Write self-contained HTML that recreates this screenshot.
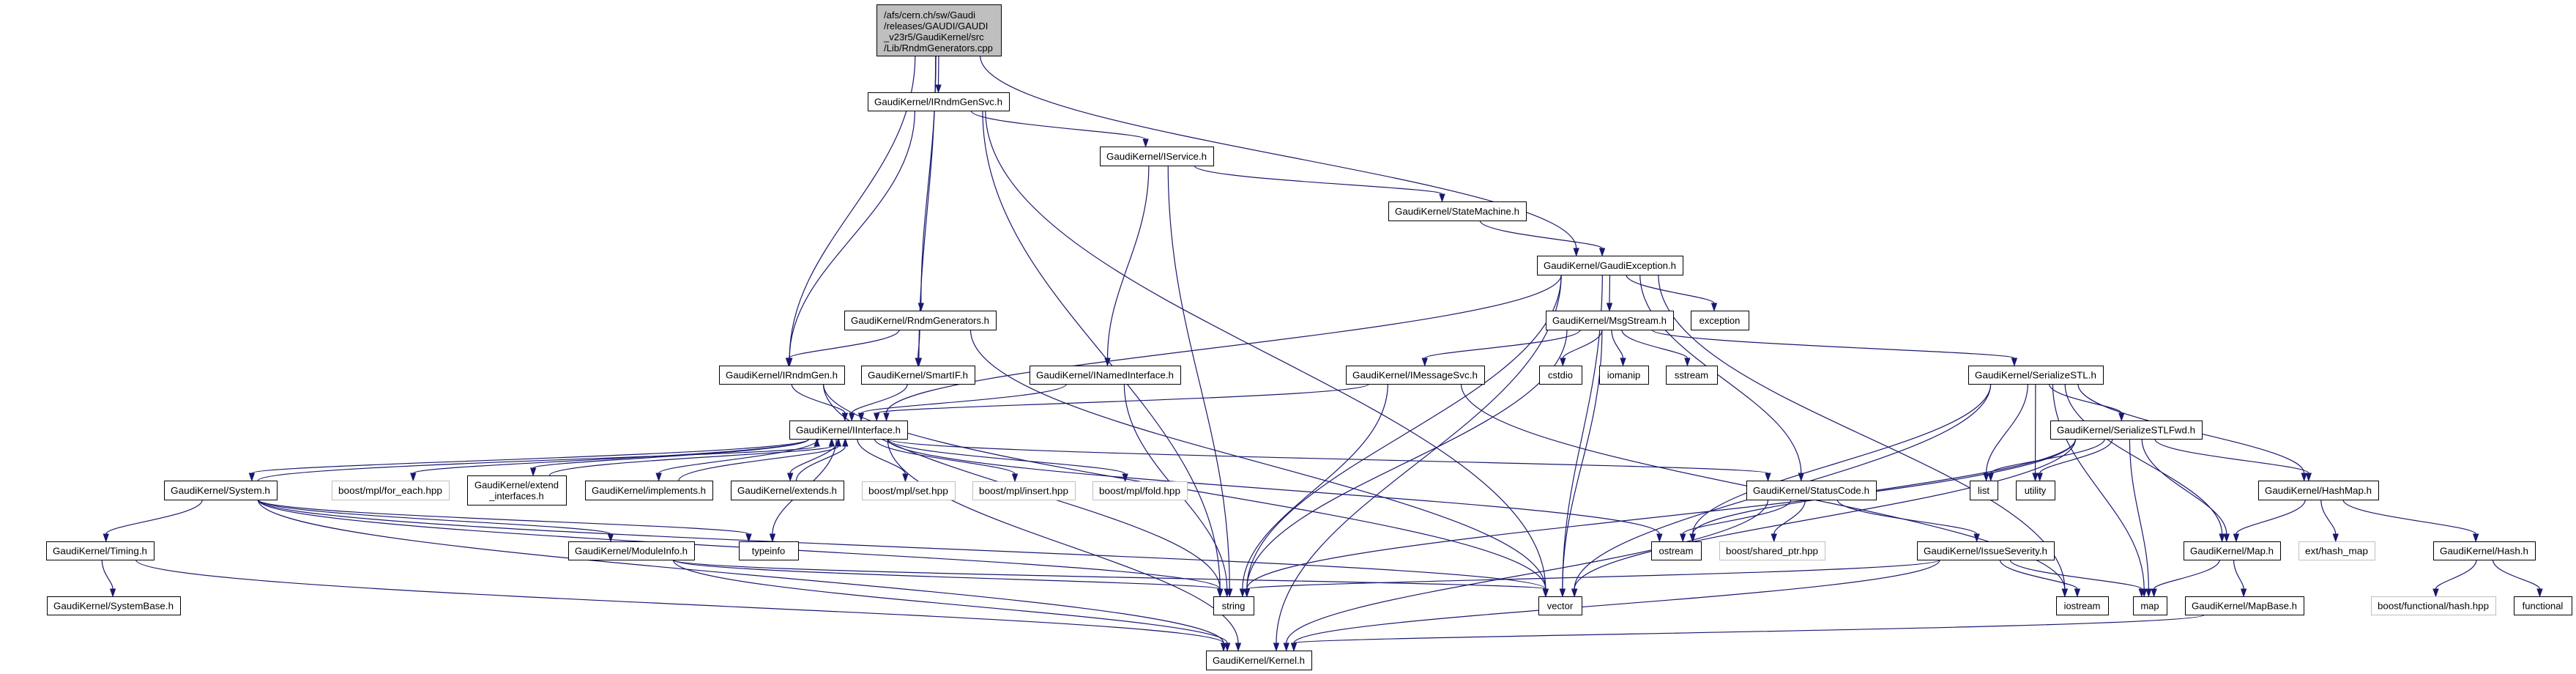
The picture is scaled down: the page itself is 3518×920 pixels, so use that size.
<!DOCTYPE html>
<html><head><meta charset="utf-8"><style>
html,body{margin:0;padding:0;background:#fff;width:3518px;height:920px;overflow:hidden}
svg text{font-family:"Liberation Sans",Arial,sans-serif;font-size:13px;fill:#000}
</style></head><body>
<svg id="g" width="3518" height="920" xmlns="http://www.w3.org/2000/svg"></svg>
<script>
var N={
root:[1197,6,1367,76,["/afs/cern.ch/sw/Gaudi","/releases/GAUDI/GAUDI","_v23r5/GaudiKernel/src","/Lib/RndmGenerators.cpp"],2],
rgs:[1185,126,1378,151,["GaudiKernel/IRndmGenSvc.h"]],
isvc:[1502,200,1657,226,["GaudiKernel/IService.h"]],
sm:[1896,275,2084,301,["GaudiKernel/StateMachine.h"]],
ge:[2099,349,2298,375,["GaudiKernel/GaudiException.h"]],
rg:[1153,424,1360,450,["GaudiKernel/RndmGenerators.h"]],
ms:[2111,424,2285,450,["GaudiKernel/MsgStream.h"]],
exc:[2309,424,2388,450,["exception"]],
irg:[982,499,1153,524,["GaudiKernel/IRndmGen.h"]],
sif:[1176,499,1331,524,["GaudiKernel/SmartIF.h"]],
ini:[1406,499,1612,524,["GaudiKernel/INamedInterface.h"]],
ims:[1838,499,2027,524,["GaudiKernel/IMessageSvc.h"]],
cstdio:[2102,499,2160,524,["cstdio"]],
iomanip:[2184,499,2251,524,["iomanip"]],
sstream:[2275,499,2345,524,["sstream"]],
ss:[2688,499,2872,524,["GaudiKernel/SerializeSTL.h"]],
ii:[1078,574,1239,599,["GaudiKernel/IInterface.h"]],
ssf:[2800,574,3007,599,["GaudiKernel/SerializeSTLFwd.h"]],
sys:[224,656,378,682,["GaudiKernel/System.h"]],
fe:[453,656,613,682,["boost/mpl/for_each.hpp"],1],
ei:[638,649,773,689,["GaudiKernel/extend","_interfaces.h"]],
impl:[799,656,973,682,["GaudiKernel/implements.h"]],
ext:[998,656,1152,682,["GaudiKernel/extends.h"]],
set:[1177,657,1304,682,["boost/mpl/set.hpp"],1],
ins:[1328,657,1468,682,["boost/mpl/insert.hpp"],1],
fold:[1492,657,1621,682,["boost/mpl/fold.hpp"],1],
sc:[2385,656,2562,682,["GaudiKernel/StatusCode.h"]],
list:[2690,656,2728,682,["list"]],
util:[2753,656,2806,682,["utility"]],
hm:[3084,656,3248,682,["GaudiKernel/HashMap.h"]],
tim:[63,739,210,764,["GaudiKernel/Timing.h"]],
mi:[776,739,948,764,["GaudiKernel/ModuleInfo.h"]],
ti:[1009,739,1090,764,["typeinfo"]],
ost:[2255,739,2323,764,["ostream"]],
sp:[2348,739,2492,764,["boost/shared_ptr.hpp"],1],
is:[2618,739,2805,764,["GaudiKernel/IssueSeverity.h"]],
map:[2982,739,3114,764,["GaudiKernel/Map.h"]],
ehm:[3139,739,3243,764,["ext/hash_map"],1],
hash:[3323,739,3462,764,["GaudiKernel/Hash.h"]],
sb:[64,814,246,839,["GaudiKernel/SystemBase.h"]],
str:[1657,814,1712,839,["string"]],
vec:[2101,814,2160,839,["vector"]],
ios:[2808,814,2879,839,["iostream"]],
mp:[2913,814,2959,839,["map"]],
mb:[2984,814,3146,839,["GaudiKernel/MapBase.h"]],
bfh:[3238,814,3408,839,["boost/functional/hash.hpp"],1],
fun:[3433,814,3512,839,["functional"]],
ker:[1647,888,1791,914,["GaudiKernel/Kernel.h"]]
};
var E=[
["root","rgs"],["root","irg"],["root","rg"],["root","sif"],["root","ge"],
["rgs","irg"],["rgs","isvc"],["rgs","str"],["rgs","vec"],
["isvc","ini"],["isvc","sm"],["isvc","str"],
["sm","ge"],
["ge","ms"],["ge","exc"],["ge","ii"],["ge","str"],["ge","vec"],["ge","sc"],["ge","ker"],["ge","ios"],
["rg","irg"],["rg","sif"],["rg","vec"],
["irg","ii"],["irg","vec"],["irg","str"],
["sif","ii"],["ini","ii"],["ini","str"],
["ms","ims"],["ms","cstdio"],["ms","iomanip"],["ms","sstream"],["ms","ss"],["ms","str"],["ms","vec"],
["ims","ii"],["ims","str"],["ims","ios"],
["ss","ssf"],["ss","list"],["ss","util"],["ss","ost"],["ss","vec"],["ss","map"],["ss","hm"],["ss","mp"],
["ssf","list"],["ssf","util"],["ssf","hm"],["ssf","map"],["ssf","mp"],["ssf","str"],["ssf","vec"],["ssf","ost"],
["ii","sys"],["ii","fe"],["ii","ei"],["ii","impl"],["ii","ext"],["ii","set"],["ii","ins"],["ii","fold"],["ii","sc"],["ii","ost"],["ii","ker"],["ii","ti"],
["sys","tim"],["sys","mi"],["sys","ti"],["sys","str"],["sys","vec"],["sys","ker"],["sys","ii",1],
["ei","ii",1],["impl","ii",1],["ext","ii",1],
["tim","sb"],["tim","ker"],
["mi","str"],["mi","vec"],["mi","ker"],
["sc","ost"],["sc","sp"],["sc","is"],["sc","ker"],
["is","str"],["is","ios"],["is","mp"],["is","ker"],
["hm","map"],["hm","ehm"],["hm","hash"],
["map","mp"],["map","mb"],["mb","ker"],
["hash","bfh"],["hash","fun"]
];
var g=document.getElementById("g"),out="";
var C="#191970";
E.forEach(function(e){
 var s=N[e[0]],t=N[e[1]],up=e[2];
 var sx=(s[0]+s[2])/2,tx=(t[0]+t[2])/2,sy,ty;
 if(!up){sy=s[3];ty=t[1];}else{sy=s[1];ty=t[3];}
 var dx=tx-sx;
 sx+=Math.max(-(s[2]-s[0])/3,Math.min((s[2]-s[0])/3,dx*0.15));
 tx-=Math.max(-(t[2]-t[0])/3,Math.min((t[2]-t[0])/3,dx*0.05));
 var dy=ty-sy,c1x=sx,c1y=sy+dy*0.4,c2x=tx,c2y=ty-dy*0.4;
 var vx=tx-c2x,vy=ty-c2y;if(Math.abs(vx)+Math.abs(vy)<1){vx=tx-sx;vy=ty-sy;}
 var L=Math.sqrt(vx*vx+vy*vy);vx/=L;vy/=L;
 var bx=tx-vx*10,by=ty-vy*10,px=-vy*3.5,py=vx*3.5;
 out+='<path d="M'+sx+','+sy+' C'+c1x+','+c1y+' '+c2x+','+c2y+' '+bx+','+by+'" fill="none" stroke="'+C+'" stroke-width="1.2"/>';
 out+='<polygon points="'+tx+','+ty+' '+(bx+px)+','+(by+py)+' '+(bx-px)+','+(by-py)+'" fill="'+C+'" stroke="'+C+'"/>';
});
for(var k in N){var n=N[k],w=n[2]-n[0],h=n[3]-n[1];
 var fill=n[5]==2?"#bfbfbf":"#fff",st=n[5]==1?"#bfbfbf":"#000";
 out+='<rect x="'+(n[0]+.5)+'" y="'+(n[1]+.5)+'" width="'+w+'" height="'+h+'" fill="'+fill+'" stroke="'+st+'" stroke-width="1"/>';
 var lines=n[4];
 if(n[5]==2){lines.forEach(function(l,i){out+='<text x="'+(n[0]+10)+'" y="'+(n[1]+19+i*15)+'">'+l+'</text>';});}
 else{var lh=15,y0=(n[1]+n[3])/2-(lines.length-1)*lh/2+5;
  lines.forEach(function(l,i){
   var tl=(lines.length==1&&l.length>10)?' textLength="'+(w-18)+'" lengthAdjust="spacingAndGlyphs"':'';
   out+='<text x="'+((n[0]+n[2])/2)+'" y="'+(y0+i*lh)+'" text-anchor="middle"'+tl+'>'+l+'</text>';});}
}
g.innerHTML=out;
</script>
</body></html>
